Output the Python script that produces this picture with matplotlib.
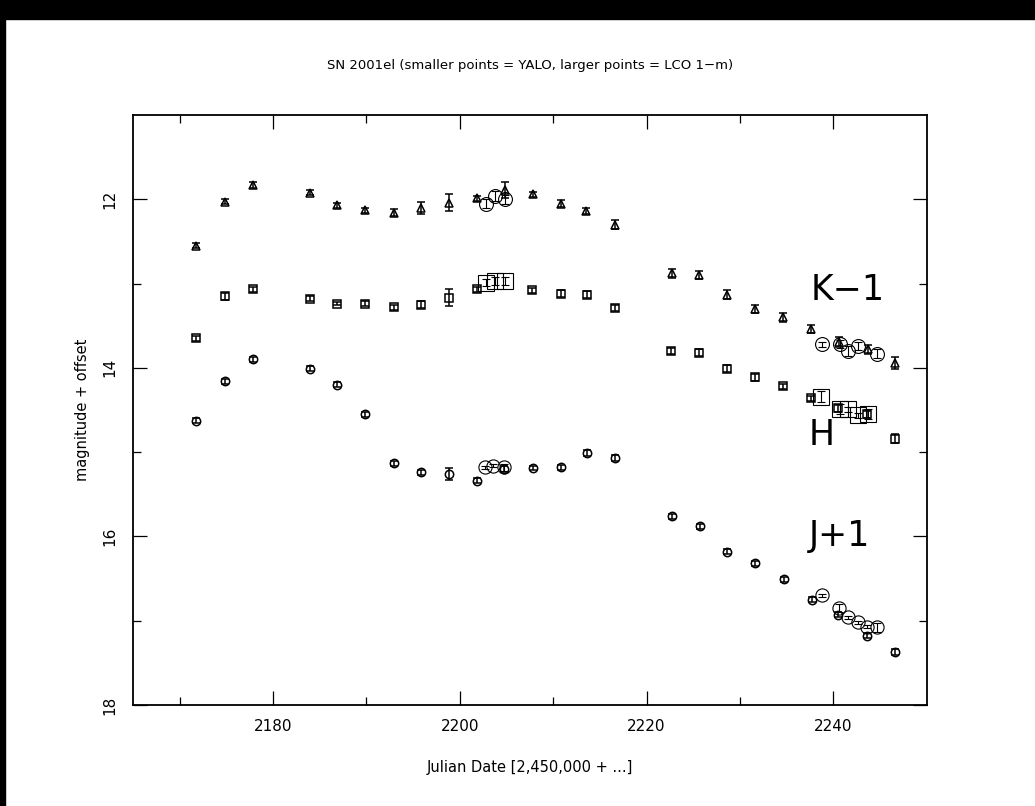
import matplotlib
matplotlib.use('Agg')
import matplotlib.pyplot as plt
from matplotlib.patches import Rectangle

# YALO (small points)
yalo_k_jd = [2171.8, 2174.9, 2177.9, 2184.0, 2186.8, 2189.8, 2192.9, 2195.8, 2198.8, 2201.8, 2204.8,
             2207.8, 2210.8, 2213.5, 2216.6, 2222.7, 2225.6, 2228.6, 2231.6, 2234.6, 2237.6, 2240.6, 2243.7, 2246.6]
yalo_k_mag = [12.55, 12.03, 11.83, 11.92, 12.07, 12.13, 12.16, 12.10, 12.04, 11.99, 11.89,
              11.94, 12.05, 12.14, 12.30, 12.88, 12.90, 13.13, 13.30, 13.40, 13.54, 13.69, 13.78, 13.94]
yalo_k_err = [0.03, 0.03, 0.03, 0.03, 0.03, 0.03, 0.04, 0.07, 0.10, 0.03, 0.10,
              0.03, 0.04, 0.04, 0.05, 0.05, 0.05, 0.05, 0.05, 0.05, 0.05, 0.06, 0.05, 0.07]

yalo_h_jd = [2171.8, 2174.9, 2177.9, 2184.0, 2186.8, 2189.8, 2192.9, 2195.8, 2198.8, 2201.8,
             2207.7, 2210.8, 2213.6, 2216.6, 2222.6, 2225.6, 2228.6, 2231.6, 2234.6, 2237.6, 2240.5, 2243.6, 2246.6]
yalo_h_mag = [13.65, 13.15, 13.07, 13.18, 13.24, 13.24, 13.28, 13.25, 13.17, 13.07,
              13.08, 13.12, 13.13, 13.29, 13.80, 13.82, 14.01, 14.11, 14.22, 14.36, 14.48, 14.55, 14.84]
yalo_h_err = [0.03, 0.04, 0.03, 0.03, 0.02, 0.03, 0.03, 0.04, 0.10, 0.03,
              0.03, 0.04, 0.04, 0.04, 0.04, 0.04, 0.04, 0.04, 0.03, 0.03, 0.04, 0.04, 0.05]

yalo_j_jd = [2171.8, 2174.9, 2177.9, 2184.0, 2186.8, 2189.8, 2192.9, 2195.8, 2198.8, 2201.8, 2204.7,
             2207.8, 2210.8, 2213.6, 2216.6, 2222.7, 2225.7, 2228.6, 2231.6, 2234.7, 2237.7, 2240.5, 2243.6, 2246.6]
yalo_j_mag = [14.63, 14.16, 13.90, 14.01, 14.20, 14.55, 15.13, 15.24, 15.26, 15.34, 15.20,
              15.19, 15.18, 15.01, 15.07, 15.76, 15.88, 16.18, 16.32, 16.51, 16.75, 16.93, 17.18, 17.37]
yalo_j_err = [0.03, 0.03, 0.03, 0.03, 0.03, 0.03, 0.03, 0.03, 0.07, 0.03, 0.03,
              0.02, 0.03, 0.03, 0.04, 0.03, 0.03, 0.03, 0.03, 0.03, 0.03, 0.03, 0.03, 0.04]

# LCO 1-m (larger points)
lco_k_jd = [2202.8, 2203.8, 2204.8, 2238.8, 2240.7, 2241.6, 2242.6, 2244.7]
lco_k_mag = [12.05, 11.96, 12.00, 13.72, 13.72, 13.80, 13.74, 13.83]
lco_k_err = [0.05, 0.06, 0.05, 0.03, 0.05, 0.06, 0.05, 0.05]

lco_h_jd = [2202.8, 2203.8, 2204.8, 2238.7, 2240.7, 2241.6, 2242.6, 2243.7]
lco_h_mag = [12.99, 12.97, 12.97, 14.34, 14.49, 14.49, 14.56, 14.55]
lco_h_err = [0.04, 0.05, 0.05, 0.07, 0.06, 0.03, 0.03, 0.06]

lco_j_jd = [2202.7, 2203.6, 2204.7, 2238.8, 2240.6, 2241.6, 2242.6, 2243.6, 2244.7]
lco_j_mag = [15.18, 15.16, 15.18, 16.70, 16.85, 16.96, 17.02, 17.07, 17.08]
lco_j_err = [0.02, 0.02, 0.04, 0.02, 0.05, 0.02, 0.02, 0.02, 0.05]

band_labels = ['K\u22121', 'H', 'J+1']
band_pos = [(2237.6, 13.08), (2237.4, 14.80), (2237.4, 16.0)]

fig = plt.figure(figsize=(10.35, 8.06), dpi=100)
ax = fig.add_axes([0.1285, 0.1253, 0.7669, 0.732])

# black frame strips like the original screenshot
fig.patches.append(Rectangle((0, 0.977), 1, 0.023, transform=fig.transFigure, color='black', zorder=-1))
fig.patches.append(Rectangle((0, 0), 0.005, 1, transform=fig.transFigure, color='black', zorder=-1))

def draw(x, y, e, marker, ms, lw):
    ax.errorbar(x, y, yerr=e, fmt=marker, ms=ms, mfc='none', mec='black', mew=lw,
                ecolor='black', elinewidth=lw, capsize=2.8, capthick=lw)

draw(yalo_k_jd, yalo_k_mag, yalo_k_err, '^', 6, 1.1)
draw(yalo_h_jd, yalo_h_mag, yalo_h_err, 's', 5.5, 1.1)
draw(yalo_j_jd, yalo_j_mag, yalo_j_err, 'o', 6, 1.1)
draw(lco_k_jd, lco_k_mag, lco_k_err, 'o', 10, 0.8)
draw(lco_h_jd, lco_h_mag, lco_h_err, 's', 11, 0.8)
draw(lco_j_jd, lco_j_mag, lco_j_err, 'o', 9.5, 0.8)

for lab, (bx, by) in zip(band_labels, band_pos):
    ax.text(bx, by, lab, fontsize=25, family='DejaVu Sans', color='black',
            va='center', ha='left')

ax.set_xlim(2165, 2250)
ax.set_ylim(18, 11)
ax.set_xticks([2180, 2200, 2220, 2240])
ax.set_xticks([2170, 2190, 2210, 2230], minor=True)
ax.set_yticks([12, 14, 16, 18])
ax.set_yticks([13, 15, 17], minor=True)
ax.tick_params(which='both', direction='in', top=True, right=True, width=0.9, labelsize=11)
ax.tick_params(which='major', length=10)
ax.tick_params(which='minor', length=6)
for lab in ax.get_yticklabels():
    lab.set_rotation(90)
    lab.set_va('center')
ax.tick_params(axis='x', pad=10)
ax.tick_params(axis='y', pad=11)
for s in ax.spines.values():
    s.set_linewidth(1.3)

ax.set_xlabel('Julian Date [2,450,000 + ...]', fontsize=10.5, labelpad=19)
ax.set_ylabel('magnitude + offset', fontsize=10.5, labelpad=9)
ax.set_title('SN 2001el (smaller points = YALO, larger points = LCO 1\u2212m)', fontsize=9.5, pad=33)

fig.savefig('out.png', dpi=100)
